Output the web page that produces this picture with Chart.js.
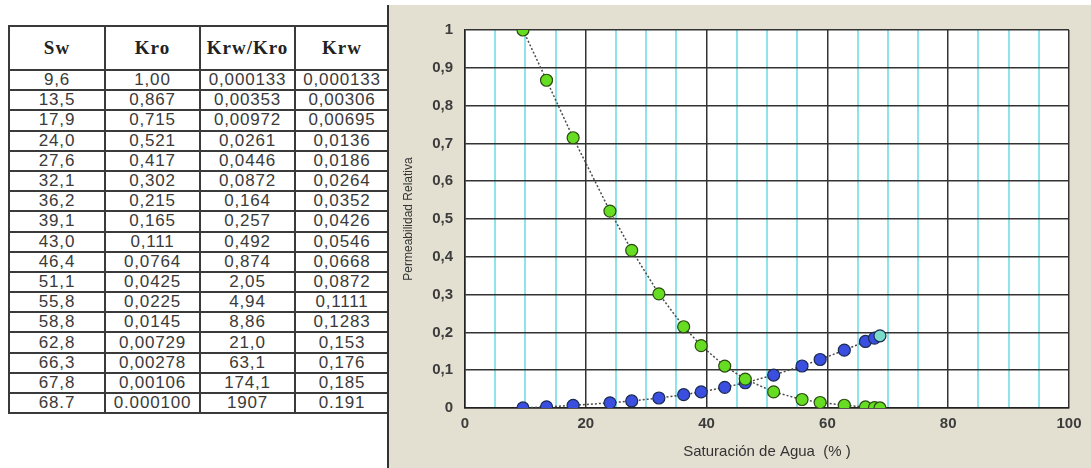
<!DOCTYPE html>
<html>
<head>
<meta charset="utf-8">
<script src="https://cdn.jsdelivr.net/npm/chart.js@4/dist/chart.umd.min.js"></script>
<style>
  html, body { margin:0; padding:0; background:#fff; width:1091px; height:468px; overflow:hidden; }
  #tbl { position:absolute; left:8px; top:25px; border-collapse:collapse; table-layout:fixed; }
  #tbl td, #tbl th { border:2px solid #3a3a3a; padding:0; text-align:center; overflow:hidden; white-space:nowrap; }
  #tbl th { height:42px; font-family:"Liberation Serif","DejaVu Serif",serif; font-weight:bold; font-size:19px; letter-spacing:1px; color:#222; }
  #tbl td { height:18.2px; line-height:18px; font-family:"Liberation Sans",Arial,sans-serif; font-size:17px; letter-spacing:0.8px; color:#3a3a3a; }
  #vline { position:absolute; left:387px; top:5px; width:2px; height:463px; background:#333; }
  #chartBox { position:absolute; left:389px; top:5px; width:702px; height:463px; background:#e4e0d1; }
</style>
</head>
<body>
<table id="tbl">
  <colgroup><col style="width:96px"><col style="width:95px"><col style="width:95px"><col style="width:94px"></colgroup>
  <thead><tr id="hdr"></tr></thead>
  <tbody id="tbody"></tbody>
</table>
<div id="vline"></div>
<div id="chartBox"><canvas id="c" width="702" height="463"></canvas></div>
<script>
// ---- data ----
const headers = ["Sw", "Kro", "Krw/Kro", "Krw"];
const swText  = ["9,6","13,5","17,9","24,0","27,6","32,1","36,2","39,1","43,0","46,4","51,1","55,8","58,8","62,8","66,3","67,8","68.7"];
const kroText = ["1,00","0,867","0,715","0,521","0,417","0,302","0,215","0,165","0,111","0,0764","0,0425","0,0225","0,0145","0,00729","0,00278","0,00106","0.000100"];
const ratioText = ["0,000133","0,00353","0,00972","0,0261","0,0446","0,0872","0,164","0,257","0,492","0,874","2,05","4,94","8,86","21,0","63,1","174,1","1907"];
const krwText = ["0,000133","0,00306","0,00695","0,0136","0,0186","0,0264","0,0352","0,0426","0,0546","0,0668","0,0872","0,1111","0,1283","0,153","0,176","0,185","0.191"];

const sw  = [9.6,13.5,17.9,24.0,27.6,32.1,36.2,39.1,43.0,46.4,51.1,55.8,58.8,62.8,66.3,67.8,68.7];
const kro = [1.00,0.867,0.715,0.521,0.417,0.302,0.215,0.165,0.111,0.0764,0.0425,0.0225,0.0145,0.00729,0.00278,0.00106,0.000100];
const krw = [0.000133,0.00306,0.00695,0.0136,0.0186,0.0264,0.0352,0.0426,0.0546,0.0668,0.0872,0.1111,0.1283,0.153,0.176,0.185,0.191];

const xTicks = [0,20,40,60,80,100];
const yTicks = ["0","0,1","0,2","0,3","0,4","0,5","0,6","0,7","0,8","0,9","1"];

// ---- table ----
const hdr = document.getElementById('hdr');
headers.forEach(h => { const th = document.createElement('th'); th.textContent = h; hdr.appendChild(th); });
const tb = document.getElementById('tbody');
sw.forEach((_, i) => {
  const tr = document.createElement('tr');
  [swText[i], kroText[i], ratioText[i], krwText[i]].forEach(t => {
    const td = document.createElement('td'); td.textContent = t; tr.appendChild(td);
  });
  tb.appendChild(tr);
});

// ---- chart ----
const plotBg = {
  id: 'plotBg',
  beforeDraw(chart) {
    const {ctx, chartArea:a} = chart;
    ctx.save(); ctx.fillStyle = '#ffffff';
    ctx.fillRect(a.left, a.top, a.right - a.left, a.bottom - a.top);
    ctx.restore();
  }
};

const tickFont = { family: "'Liberation Sans', Arial, sans-serif", size: 15, weight: 'bold' };
new Chart(document.getElementById('c'), {
  type: 'scatter',
  data: {
    datasets: [
      {
        label: 'Kro',
        data: sw.map((x, i) => ({x, y: kro[i]})),
        showLine: true,
        borderColor: '#4a4a4a', borderWidth: 1.5, borderDash: [2, 2],
        pointBackgroundColor: '#66dd22', pointBorderColor: '#2a4a10', pointBorderWidth: 1.2,
        pointRadius: 6
      },
      {
        label: 'Krw',
        data: sw.map((x, i) => ({x, y: krw[i]})),
        showLine: true,
        borderColor: '#4a4a4a', borderWidth: 1.5, borderDash: [2, 2],
        pointBackgroundColor: sw.map((_, i) => i === sw.length - 1 ? '#7adcc8' : '#3a4fe0'),
        pointBorderColor: '#1a2a50', pointBorderWidth: 1.2,
        pointRadius: 6
      }
    ]
  },
  options: {
    responsive: false, animation: false,
    layout: { padding: { left: 0, top: 25, right: 22, bottom: 0 } },
    plugins: { legend: { display: false }, tooltip: { enabled: false } },
    scales: {
      x: {
        type: 'linear', min: 0, max: 100,
        ticks: {
          stepSize: 5, padding: 7, color: '#3c3c3c', font: tickFont, maxRotation: 0, autoSkip: false,
          callback: v => xTicks.includes(v) ? String(v) : ''
        },
        grid: {
          drawTicks: false,
          color: c => (c.tick && c.tick.value % 20 === 0) ? '#333333' : '#8fe4ec',
          lineWidth: c => (c.tick && c.tick.value % 20 === 0) ? 1.5 : 2
        },
        border: { display: true, color: '#222', width: 1.5 },
        title: { display: true, text: 'Saturación de Agua  (% )', color: '#333',
          font: { family: "'Liberation Sans', Arial, sans-serif", size: 15 }, padding: { top: 4, bottom: 7 } },
        afterFit: s => { s.height = 60; }
      },
      y: {
        type: 'linear', min: 0, max: 1,
        ticks: {
          stepSize: 0.1, padding: 12, color: '#3c3c3c', font: tickFont,
          callback: v => yTicks[Math.round(v * 10)]
        },
        grid: { drawTicks: false, color: '#333333', lineWidth: 1.5 },
        border: { display: true, color: '#222', width: 1.5 },
        title: { display: true, text: 'Permeabilidad Relativa', color: '#333',
          font: { family: "'Liberation Sans Narrow', 'Liberation Sans', Arial, sans-serif", size: 12 }, padding: { top: 12, bottom: 0 } },
        afterFit: s => { s.width = 76; }
      }
    }
  },
  plugins: [plotBg]
});
</script>
</body>
</html>
